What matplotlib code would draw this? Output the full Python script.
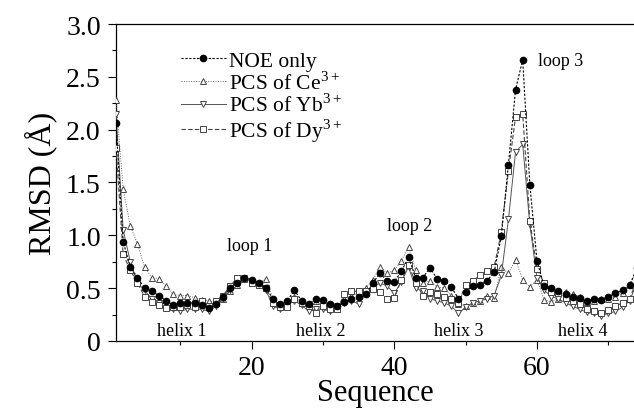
import matplotlib
matplotlib.use("Agg")
import matplotlib.pyplot as plt
from matplotlib.ticker import MultipleLocator, FuncFormatter

plt.rcParams['font.family'] = ['Liberation Serif', 'DejaVu Serif']
plt.rcParams['mathtext.fontset'] = 'custom'
plt.rcParams['mathtext.rm'] = 'Liberation Serif'

seq = list(range(1, 75))

noe = [2.06, 0.94, 0.70, 0.60, 0.50, 0.47, 0.43, 0.38, 0.34, 0.36,
       0.36, 0.36, 0.34, 0.31, 0.35, 0.42, 0.50, 0.55, 0.60, 0.58,
       0.55, 0.50, 0.40, 0.35, 0.38, 0.48, 0.38, 0.35, 0.40, 0.39,
       0.35, 0.33, 0.37, 0.40, 0.42, 0.44, 0.55, 0.64, 0.57, 0.56,
       0.66, 0.79, 0.60, 0.60, 0.69, 0.59, 0.57, 0.51, 0.40, 0.46,
       0.52, 0.53, 0.57, 0.65, 0.99, 1.67, 2.38, 2.66, 1.48, 0.76,
       0.52, 0.50, 0.47, 0.44, 0.42, 0.41, 0.38, 0.40, 0.39, 0.42,
       0.45, 0.48, 0.53, 0.69]

ce = [2.28, 1.44, 1.09, 0.92, 0.70, 0.60, 0.59, 0.52, 0.44, 0.43,
      0.43, 0.41, 0.39, 0.38, 0.36, 0.40, 0.47, 0.53, 0.60, 0.58,
      0.55, 0.59, 0.40, 0.35, 0.35, 0.42, 0.36, 0.35, 0.38, 0.37,
      0.32, 0.33, 0.40, 0.43, 0.45, 0.50, 0.58, 0.70, 0.64, 0.67,
      0.76, 0.89, 0.67, 0.55, 0.57, 0.51, 0.50, 0.43, 0.35, 0.33,
      0.36, 0.38, 0.43, 0.41, 0.70, 0.64, 0.77, 0.58, 0.51, 0.58,
      0.39, 0.37, 0.40, 0.46, 0.44, 0.42, 0.37, 0.38, 0.40, 0.40,
      0.42, 0.45, 0.53, 0.65]

yb = [2.15, 1.05, 0.75, 0.55, 0.48, 0.40, 0.36, 0.35, 0.30, 0.28,
      0.30, 0.30, 0.30, 0.28, 0.33, 0.40, 0.48, 0.57, 0.60, 0.56,
      0.54, 0.48, 0.33, 0.30, 0.34, 0.38, 0.34, 0.28, 0.30, 0.30,
      0.28, 0.33, 0.36, 0.38, 0.35, 0.45, 0.50, 0.55, 0.52, 0.45,
      0.56, 0.70, 0.50, 0.47, 0.40, 0.38, 0.36, 0.33, 0.26, 0.32,
      0.36, 0.38, 0.40, 0.43, 0.62, 1.15, 1.79, 1.86, 1.10, 0.60,
      0.48, 0.42, 0.40, 0.36, 0.33, 0.30, 0.27, 0.26, 0.24, 0.26,
      0.28, 0.32, 0.38, 0.55]

dy = [1.83, 0.82, 0.67, 0.55, 0.42, 0.37, 0.34, 0.31, 0.32, 0.32,
      0.34, 0.32, 0.38, 0.33, 0.38, 0.43, 0.52, 0.60, 0.59, 0.55,
      0.53, 0.50, 0.36, 0.32, 0.32, 0.40, 0.36, 0.33, 0.26, 0.33,
      0.30, 0.30, 0.44, 0.47, 0.47, 0.47, 0.49, 0.46, 0.40, 0.41,
      0.58, 0.72, 0.55, 0.43, 0.46, 0.44, 0.42, 0.40, 0.36, 0.53,
      0.57, 0.62, 0.66, 0.70, 1.03, 1.61, 2.12, 2.15, 1.14, 0.68,
      0.55, 0.46, 0.45, 0.41, 0.38, 0.35, 0.30, 0.28, 0.26, 0.29,
      0.33, 0.36, 0.40, 0.58]

labels = ["NOE only", r"PCS of Ce$^{\mathrm{3+}}$",
          r"PCS of Yb$^{\mathrm{3+}}$", r"PCS of Dy$^{\mathrm{3+}}$"]

annotations = [("loop 1", 19.7, 0.90), ("loop 2", 42.2, 1.09),
               ("loop 3", 63.3, 2.65), ("helix 1", 10.2, 0.10),
               ("helix 2", 29.7, 0.10), ("helix 3", 49.1, 0.10),
               ("helix 4", 66.4, 0.10)]

fig = plt.figure(figsize=(6.34, 4.10), dpi=100)
ax = fig.add_axes([0.183, 0.166, 0.817, 0.773])

ms = 4.5
ax.plot(seq, noe, color='black', lw=0.8, ls=(0, (2, 1.5)), marker='o',
        ms=ms, mfc='black', mec='black', label=labels[0], zorder=5)
ax.plot(seq, ce, color='#666666', lw=0.7, ls=(0, (1, 1.5)), marker='^',
        ms=ms, mfc='white', mec='#444444', mew=0.7, label=labels[1], zorder=3)
ax.plot(seq, yb, color='#555555', lw=0.7, ls='-', marker='v',
        ms=ms, mfc='white', mec='#444444', mew=0.7, label=labels[2], zorder=3)
ax.plot(seq, dy, color='#444444', lw=0.8, ls=(0, (4, 2)), marker='s',
        ms=ms, mfc='white', mec='#444444', mew=0.7, label=labels[3], zorder=4)

ax.set_xlim(1, 73.6)
ax.set_ylim(0, 3.0)
ax.xaxis.set_major_locator(MultipleLocator(20))
ax.xaxis.set_minor_locator(MultipleLocator(10))
ax.yaxis.set_major_locator(MultipleLocator(0.5))
ax.yaxis.set_minor_locator(MultipleLocator(0.25))
ax.yaxis.set_major_formatter(FuncFormatter(lambda v, p: "0" if abs(v) < 1e-9 else f"{v:.1f}"))
ax.tick_params(axis='both', which='major', direction='out', length=6, width=0.8, labelsize=20)
ax.tick_params(axis='both', which='minor', direction='out', length=3, width=0.8)
ax.tick_params(axis='y', which='major', pad=5)
ax.tick_params(axis='x', which='major', pad=4)
ax.spines['right'].set_visible(False)
for s in ['left', 'bottom', 'top']:
    ax.spines[s].set_linewidth(0.9)

ax.set_xlabel("Sequence", fontsize=22, labelpad=-1)
ax.set_ylabel("RMSD (Å)", fontsize=23, labelpad=6)

for txt, x, y in annotations:
    ax.text(x, y, txt, fontsize=13, ha='center', va='center')

leg = ax.legend(loc='upper left', bbox_to_anchor=(0.125, 0.915), frameon=False,
                fontsize=15.5, handlelength=2.1, handletextpad=0.15,
                labelspacing=0.0, borderaxespad=0.0, borderpad=0.0)

fig.savefig("out.png", dpi=100)
